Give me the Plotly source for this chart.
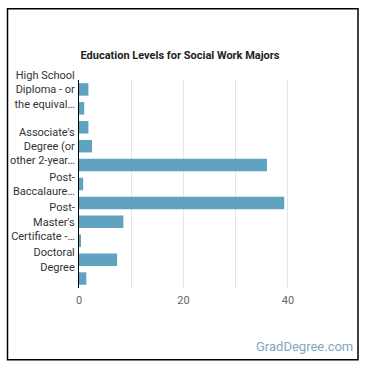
import plotly.graph_objects as go

categories = [
    "High School Diploma - or the equivalent",
    "Post-Secondary Certificate",
    "Some College Courses",
    "Associate's Degree (or other 2-year degree)",
    "Bachelor's Degree",
    "Post-Baccalaureate Certificate",
    "Master's Degree",
    "Post-Master's Certificate",
    "First Professional Degree",
    "Doctoral Degree",
    "Post-Doctoral Training",
]
values = [1.8, 1.0, 1.8, 2.5, 36.0, 0.8, 39.3, 8.5, 0.3, 7.3, 1.4]

label_cats = [categories[0], categories[3], categories[5], categories[7], categories[9]]
label_text = [
    "High School<br>Diploma - or<br>the equival…",
    "Associate's<br>Degree (or<br>other 2-year…",
    "Post-<br>Baccalaure…",
    "Post-<br>Master's<br>Certificate -…",
    "Doctoral<br>Degree",
]
x_labels = [0, 20, 40]
x_minor = [10, 30]

W, H = 370, 370
L, R, T, B = 79, 56, 79.5, 82
pw, ph = W - L - R, H - T - B

def px(x):
    return (x - L) / pw

def py(y):
    return (H - B - y) / ph

fig = go.Figure(go.Bar(
    y=categories, x=values, orientation="h",
    marker=dict(color="#5fa3c1", line=dict(width=0)),
    hoverinfo="skip",
))

fig.update_layout(
    width=W, height=H,
    margin=dict(l=L, r=R, t=T, b=B, autoexpand=False),
    paper_bgcolor="white", plot_bgcolor="white",
    bargap=0.34,
    showlegend=False,
    font=dict(family="Roboto", color="#333333"),
    title=dict(
        text="<b>Education Levels for Social Work Majors</b>",
        x=px(180), xanchor="center", xref="paper",
        y=1 - 55 / H, yanchor="middle", yref="container",
        font=dict(size=11, color="#222222", family="Roboto"),
    ),
)

fig.update_yaxes(
    autorange="reversed", automargin=False,
    tickmode="array", tickvals=label_cats, ticktext=label_text,
    tickfont=dict(size=11, color="#333333", family="Roboto"),
    showline=True, linecolor="#000000", linewidth=1,
    showgrid=False, ticks="", ticklabelstandoff=1,
)
fig.update_xaxes(
    range=[0, 45], automargin=False,
    tickmode="array", tickvals=x_labels,
    tickfont=dict(size=11, color="#666666", family="Roboto"),
    showgrid=True, gridcolor="#e6e6e6", gridwidth=1,
    minor=dict(tickvals=x_minor, showgrid=True, gridcolor="#e6e6e6", gridwidth=1),
    zeroline=False, showline=False, ticks="", ticklabelstandoff=4,
)

fig.add_shape(
    type="rect", xref="paper", yref="paper",
    x0=px(7.5), x1=px(358), y0=py(360), y1=py(8),
    line=dict(color="#000000", width=1.5), layer="above",
)

fig.add_annotation(
    text="GradDegree.com", xref="paper", yref="paper",
    x=px(355), y=py(347), xanchor="right", yanchor="middle",
    showarrow=False,
    font=dict(size=13, color="#7fa7c2", family="Roboto"),
)

fig.write_html("out.html")
